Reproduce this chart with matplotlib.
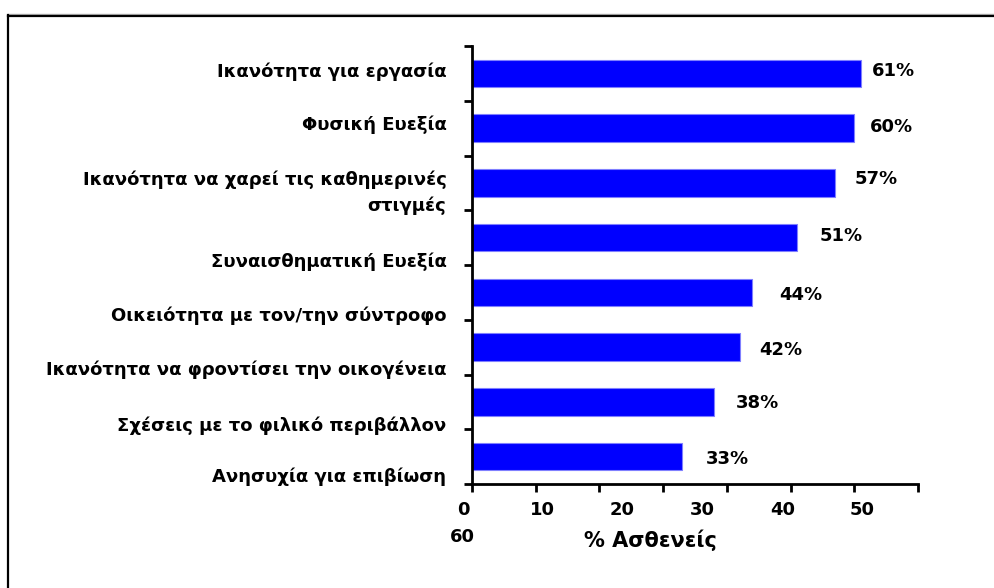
import matplotlib
matplotlib.use("Agg")
import matplotlib.pyplot as plt
import matplotlib.transforms as mtransforms
from matplotlib.lines import Line2D

plt.rcParams['font.family'] = ['DejaVu Sans']

categories = [
    "Ικανότητα για εργασία",
    "Φυσική Ευεξία",
    "Ικανότητα να χαρεί τις καθημερινές\nστιγμές",
    "Συναισθηματική Ευεξία",
    "Οικειότητα με τον/την σύντροφο",
    "Ικανότητα να φροντίσει την οικογένεια",
    "Σχέσεις με το φιλικό περιβάλλον",
    "Ανησυχία για επιβίωση",
]
values = [61, 60, 57, 51, 44, 42, 38, 33]
value_labels = ["61%", "60%", "57%", "51%", "44%", "42%", "38%", "33%"]
x_tick_labels = ["0", "10", "20", "30", "40", "50", "60"]
x_title = "% Ασθενείς"

# vertical nudges (pixels, positive = down) for the category labels
cat_shift_px = [-2, -3, 10, 24, 23, 23, 24, 20]
# horizontal gaps (pixels) between bar end and its value label
val_gap_px = [11, 16, 19, 23, 27, 20, 22, 24]
val_shift_px = [-2, -1, -4, -2, 3, 3, 1, 2]

W, H = 995, 588
FS = 13
fig = plt.figure(figsize=(W / 100, H / 100), dpi=100)
ax = fig.add_axes([472 / W, 1 - 484 / H, (918 - 472) / W, (484 - 46) / H])

n = len(categories)
ypos = list(range(n))
ax.barh(ypos, values, height=0.5, color="#0000FF", edgecolor="#7F7FFF", linewidth=0.8, zorder=2)

ax.set_xlim(0, 70)
ax.set_ylim(n - 0.5, -0.5)

for s in ("top", "right"):
    ax.spines[s].set_visible(False)
for s in ("left", "bottom"):
    ax.spines[s].set_linewidth(2.0)
    ax.spines[s].set_color("black")

ax.set_xticks(range(0, 71, 10))
ax.set_xticklabels([])
ax.set_yticks([i - 0.5 for i in range(n + 1)])
ax.set_yticklabels([])
ax.tick_params(axis="both", direction="out", length=6, width=2.0, color="black")

# category labels
for i, (lab, dy) in enumerate(zip(categories, cat_shift_px)):
    tr = ax.get_yaxis_transform() + mtransforms.ScaledTranslation(0, -dy / 100, fig.dpi_scale_trans)
    ax.text(-25.5 / 446, i, lab, transform=tr, ha="right", va="center",
            fontsize=FS, fontweight="bold", multialignment="right", linespacing=1.5)

# value labels
for i, (v, lab, g, dy) in enumerate(zip(values, value_labels, val_gap_px, val_shift_px)):
    tr = ax.transData + mtransforms.ScaledTranslation(g / 100, -dy / 100, fig.dpi_scale_trans)
    ax.text(v, i, lab, transform=tr, ha="left", va="center",
            fontsize=FS, fontweight="bold")

# x tick labels, wrapped onto two rows
for k, lab in enumerate(x_tick_labels[:-1]):
    xpx = 463 + 79.8 * k
    fig.text(xpx / W, 1 - 510 / H, lab, ha="center", va="center", fontsize=FS, fontweight="bold")
fig.text(462 / W, 1 - 537 / H, x_tick_labels[-1], ha="center", va="center", fontsize=FS, fontweight="bold")

fig.text(650 / W, 1 - 540 / H, x_title, ha="center", va="center", fontsize=FS + 2, fontweight="bold")

# outer frame (left and top edges)
fig.add_artist(Line2D([8 / W, 1], [1 - 14 / H, 1 - 14 / H], transform=fig.transFigure, color="#B0B0B0", linewidth=1.0))
fig.add_artist(Line2D([8 / W, 8 / W], [0, 1 - 15 / H], transform=fig.transFigure, color="black", linewidth=1.6))
fig.add_artist(Line2D([8 / W, 1], [1 - 15.5 / H, 1 - 15.5 / H], transform=fig.transFigure, color="black", linewidth=1.6))

fig.savefig("out.png", dpi=100)
